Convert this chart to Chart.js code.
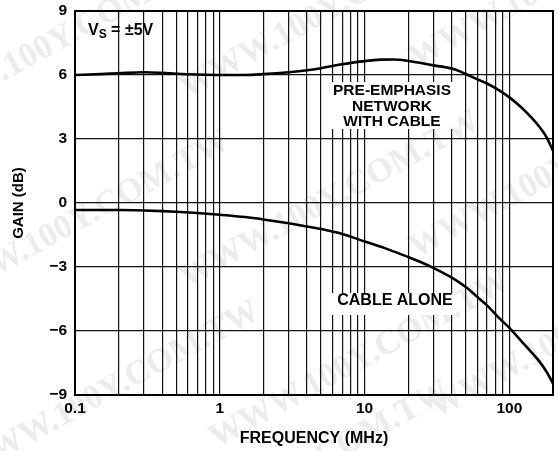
<!DOCTYPE html>
<html>
<head>
<meta charset="utf-8">
<script src="https://cdn.jsdelivr.net/npm/chart.js@4/dist/chart.umd.min.js"></script>
<style>
  html, body { margin: 0; padding: 0; background: #fff; }
  #wrap { width: 558px; height: 451px; }
</style>
</head>
<body>
<div id="wrap"><canvas id="gainChart" width="558" height="451"></canvas></div>
<script>
// frequency points (MHz) and gain readings (dB)
var freqs = [0.1, 0.15, 0.2, 0.3, 0.4, 0.5, 0.7, 1, 1.5, 2, 3, 4, 5, 7, 10, 13, 16, 20, 25, 30, 40, 50, 60, 70, 85, 100, 120, 140, 160, 180, 200];
var preEmphasis = [6.0, 6.04, 6.08, 6.13, 6.1, 6.06, 6.02, 6.0, 6.0, 6.04, 6.13, 6.22, 6.32, 6.5, 6.65, 6.72, 6.73, 6.66, 6.55, 6.45, 6.3, 6.05, 5.8, 5.6, 5.28, 4.95, 4.5, 4.05, 3.6, 3.1, 2.45];
var cableAlone = [-0.33, -0.33, -0.33, -0.35, -0.38, -0.41, -0.47, -0.55, -0.66, -0.77, -0.95, -1.1, -1.22, -1.45, -1.8, -2.05, -2.28, -2.53, -2.8, -3.05, -3.5, -3.94, -4.4, -4.8, -5.4, -5.85, -6.45, -6.95, -7.4, -7.9, -8.45];

var xGrid = [0.1, 0.2, 0.3, 0.4, 0.5, 0.6, 0.7, 0.8, 0.9, 1, 2, 3, 4, 5, 6, 7, 8, 9, 10, 20, 30, 40, 50, 60, 70, 80, 90, 100, 200];
var xLabels = [0.1, 1, 10, 100];
var yTicks = [-9, -6, -3, 0, 3, 6, 9];

function pts(ys) {
    return freqs.map(function(f, i) { return {x: f, y: ys[i]}; });
}

var boldFont = '"Liberation Sans", Arial, sans-serif';

// faint site watermark behind everything
var watermark = {
    id: 'watermark',
    beforeDraw: function(chart) {
        var c = chart.ctx;
        c.save();
        c.fillStyle = '#ececec';
        c.font = 'bold 34px "Liberation Serif", serif';
        c.textBaseline = 'middle';
        c.textAlign = 'center';
        var spots = [[60, 40], [330, 10], [560, -20], [80, 220], [330, 200], [560, 170], [110, 390], [360, 360], [580, 330], [300, 470]];
        spots.forEach(function(p) {
            c.save();
            c.translate(p[0], p[1]);
            c.rotate(-0.5);
            c.fillText('WWW.100Y.COM.TW', 0, 0);
            c.restore();
        });
        c.restore();
    }
};

// white-backed labels drawn inside the plot
var labelsPlugin = {
    id: 'notes',
    afterDatasetsDraw: function(chart) {
        var c = chart.ctx, a = chart.chartArea;
        c.save();
        // V_S = ±5V
        c.fillStyle = '#000';
        c.textBaseline = 'alphabetic';
        c.textAlign = 'left';
        c.font = 'bold 16px ' + boldFont;
        var x = a.left + 13, y = a.top + 24;
        c.fillText('V', x, y);
        x += c.measureText('V').width;
        c.font = 'bold 12px ' + boldFont;
        c.fillText('S', x, y + 3);
        x += c.measureText('S').width;
        c.font = 'bold 16px ' + boldFont;
        c.fillText(' = \u00b15V', x, y);

        // white boxes under the curve names
        c.fillStyle = '#fff';
        c.fillRect(a.left + 256, a.top + 71, 124, 47);
        c.fillRect(a.left + 257, a.top + 282, 124, 22);
        c.fillStyle = '#000';
        c.textAlign = 'center';
        c.textBaseline = 'middle';
        c.font = 'bold 15.5px ' + boldFont;
        c.fillText('PRE-EMPHASIS', a.left + 317, a.top + 80);
        c.fillText('NETWORK', a.left + 317, a.top + 95.5);
        c.fillText('WITH CABLE', a.left + 317, a.top + 111);
        c.font = 'bold 16px ' + boldFont;
        c.fillText('CABLE ALONE', a.left + 320, a.top + 290);

        // frame
        c.lineWidth = 2;
        c.strokeStyle = '#000';
        c.strokeRect(a.left, a.top, a.right - a.left, a.bottom - a.top);
        c.restore();
    }
};

var ctx = document.getElementById('gainChart');
var chart = new Chart(ctx.getContext('2d'), {
    type: 'line',
    data: {
        datasets: [{
            data: pts(preEmphasis),
            borderColor: '#000',
            borderWidth: 2.6,
            pointRadius: 0,
            cubicInterpolationMode: 'monotone',
            fill: false
        }, {
            data: pts(cableAlone),
            borderColor: '#000',
            borderWidth: 2.6,
            pointRadius: 0,
            cubicInterpolationMode: 'monotone',
            fill: false
        }]
    },
    options: {
        responsive: false,
        animation: false,
        devicePixelRatio: 1,
        layout: { padding: { top: 11, right: 5, left: 0, bottom: 0 } },
        plugins: { legend: { display: false }, tooltip: { enabled: false } },
        scales: {
            x: {
                type: 'logarithmic',
                min: 0.1,
                max: 200,
                afterBuildTicks: function(scale) {
                    scale.ticks = xGrid.map(function(v) { return {value: v}; });
                },
                afterFit: function(scale) {
                    scale.height = 56;
                    scale.paddingLeft = 0;
                    scale.paddingRight = 0;
                },
                grid: { color: '#111', lineWidth: 1.2, drawTicks: false },
                border: { display: false },
                ticks: {
                    autoSkip: false,
                    maxRotation: 0,
                    padding: 4,
                    color: '#000',
                    font: { family: boldFont, size: 15.5, weight: 'bold' },
                    callback: function(v) {
                        return xLabels.indexOf(v) >= 0 ? String(v) : '';
                    }
                },
                title: {
                    display: true,
                    text: 'FREQUENCY (MHz)',
                    color: '#000',
                    font: { family: boldFont, size: 16, weight: 'bold' },
                    padding: { top: 0, bottom: 3 }
                }
            },
            y: {
                type: 'linear',
                min: -9,
                max: 9,
                afterBuildTicks: function(scale) {
                    scale.ticks = yTicks.map(function(v) { return {value: v}; });
                },
                afterFit: function(scale) {
                    scale.width = 75;
                    scale.paddingTop = 0;
                    scale.paddingBottom = 0;
                },
                grid: { color: '#111', lineWidth: 1.2, drawTicks: false },
                border: { display: false },
                ticks: {
                    padding: 8,
                    color: '#000',
                    font: { family: boldFont, size: 15.5, weight: 'bold' },
                    callback: function(v) { return String(v).replace('-', '\u2212'); }
                },
                title: {
                    display: true,
                    text: 'GAIN (dB)',
                    color: '#000',
                    font: { family: boldFont, size: 15, weight: 'bold' },
                    padding: { top: 10, bottom: 0 }
                }
            }
        }
    },
    plugins: [watermark, labelsPlugin]
});
</script>
</body>
</html>
